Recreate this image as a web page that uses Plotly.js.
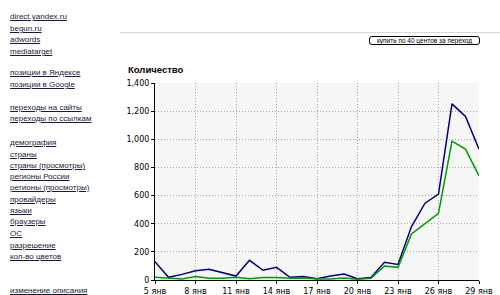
<!DOCTYPE html>
<html>
<head>
<meta charset="utf-8">
<script src="https://cdn.plot.ly/plotly-3.0.1.min.js"></script>
<style>
  html, body { margin:0; padding:0; background:#fff; width:500px; height:295px; overflow:hidden; }
  #chart { position:absolute; left:0; top:0; width:500px; height:295px; }
  .nav { position:absolute; left:10px; font-family:"Liberation Sans", Arial, sans-serif; font-size:8px; line-height:9px; color:#1a1a3a; text-decoration:underline; white-space:nowrap; z-index:2; }
  #topline { position:absolute; left:120px; top:32px; width:380px; height:1px; background:#d8d8d8; z-index:2; }
  #btn { position:absolute; left:369px; top:36px; width:109px; height:7px; border:1px solid #000; border-radius:3px; background:#fff; font-family:"Liberation Sans", Arial, sans-serif; font-size:6.5px; line-height:7px; text-align:center; color:#000; white-space:nowrap; z-index:2; }
</style>
</head>
<body>
<div id="chart"></div>
<div id="topline"></div>
<div id="btn">купить по 40 центов за переход</div>
<div id="nav"></div>
<script>
// ---- data ----
const days = [5,6,7,8,9,10,11,12,13,14,15,16,17,18,19,20,21,22,23,24,25,26,27,28,29];
const blueValues = [130,19,40,66,76,52,28,140,69,90,19,24,9,28,43,9,17,126,111,380,546,610,1252,1162,930];
const greenValues = [19,12,7,24,12,12,19,9,17,17,12,14,7,7,14,5,12,100,90,327,398,474,987,930,740];
const tickDays = [5,8,11,14,17,20,23,26,29];
const tickLabels = ["5 янв","8 янв","11 янв","14 янв","17 янв","20 янв","23 янв","26 янв","29 янв"];
const navLinks = [
  ["direct.yandex.ru",17],["begun.ru",29],["adwords",40],["mediatarget",52],
  ["позиции в Яндексе",73],["позиции в Google",85],
  ["переходы на сайты",108],["переходы по ссылкам",119],
  ["демография",143],["страны",155],["страны (просмотры)",166],["регионы России",177],
  ["регионы (просмотры)",188],["провайдеры",200],["языки",211],["браузеры",222],
  ["ОС",234],["разрешение",246],["кол-во цветов",257],["изменение описания",291]
];

const nav = document.getElementById('nav');
navLinks.forEach(([t, y]) => {
  const d = document.createElement('div');
  d.className = 'nav';
  d.textContent = t;
  d.style.top = (y - 5) + 'px';
  nav.appendChild(d);
});

const font = {family: '"DejaVu Sans", Verdana, sans-serif', size: 8, color: '#000'};

const traces = [
  {x: days, y: blueValues, type: 'scatter', mode: 'lines', line: {color: '#000080', width: 1.5}, hoverinfo: 'none'},
  {x: days, y: greenValues, type: 'scatter', mode: 'lines', line: {color: '#009900', width: 1.5}, hoverinfo: 'none'}
];

const layout = {
  width: 500, height: 295,
  margin: {l: 155, r: 21, t: 83, b: 15, pad: 0},
  paper_bgcolor: 'rgba(0,0,0,0)',
  plot_bgcolor: '#f6f6f6',
  showlegend: false,
  font: font,
  title: {
    text: '<b>Количество</b>',
    font: {family: '"Liberation Sans", Arial, sans-serif', size: 9.5, color: '#000'},
    x: 128/500, xanchor: 'left', xref: 'container',
    y: 1 - 70/295, yanchor: 'middle', yref: 'container'
  },
  xaxis: {
    range: [5, 29], tickvals: tickDays, ticktext: tickLabels,
    showgrid: true, gridcolor: '#a8a8a8', griddash: '1px,2px', gridwidth: 1,
    showline: true, linecolor: '#000', linewidth: 1,
    ticks: 'outside', ticklen: 3, tickcolor: '#000',
    zeroline: false, tickfont: font, fixedrange: true
  },
  yaxis: {
    range: [0, 1400], dtick: 200, tick0: 0, tickformat: ',d', separatethousands: true,
    showgrid: true, gridcolor: '#a8a8a8', griddash: '1px,2px', gridwidth: 1,
    showline: true, linecolor: '#000', linewidth: 1,
    ticks: 'outside', ticklen: 3, tickcolor: '#000',
    zeroline: false, tickfont: font, fixedrange: true
  }
};

Plotly.newPlot('chart', traces, layout, {staticPlot: true, displayModeBar: false});
</script>
</body>
</html>
